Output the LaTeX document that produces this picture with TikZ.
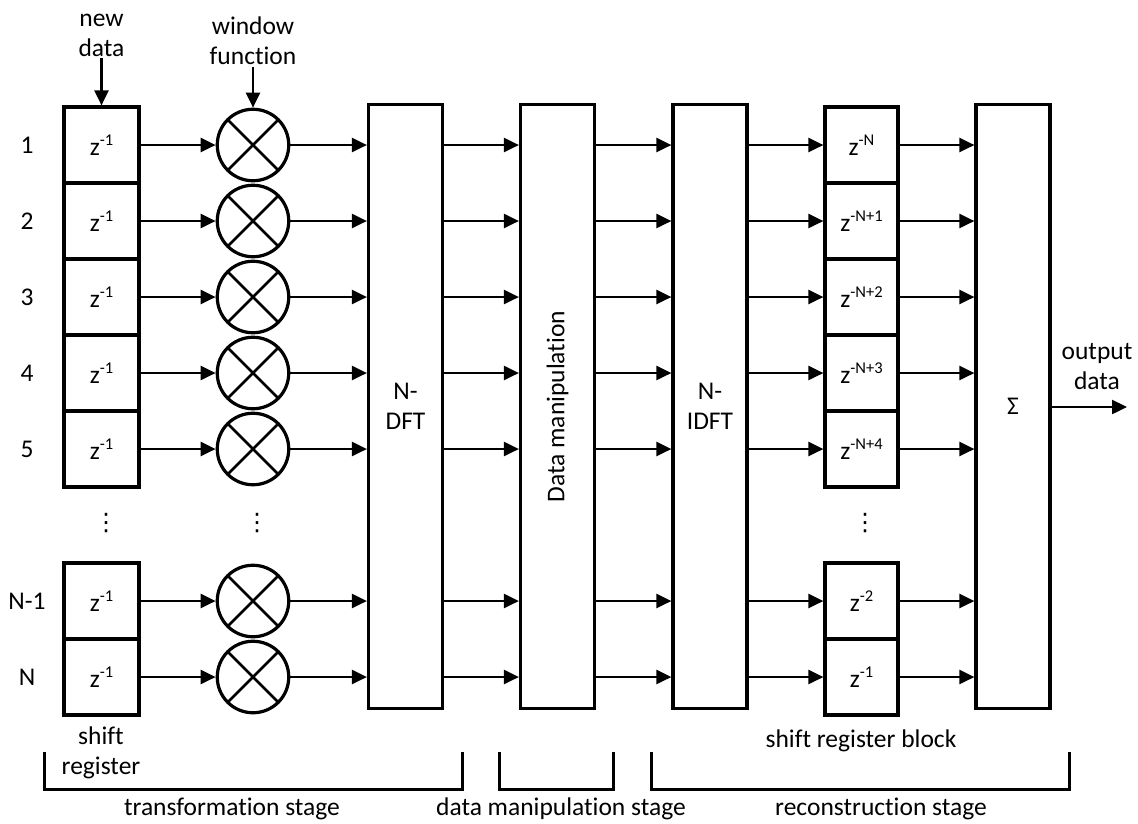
\documentclass[tikz,border=0pt]{standalone}
\usepackage{fontspec}
\setmainfont{Carlito}[Ligatures={NoCommon,NoContextual}]
\newfontfamily\dejavu{DejaVu Sans}
\usetikzlibrary{arrows.meta}
\newcommand\zsup[1]{z\raisebox{0.4em}{\fontsize{16.5}{16.5}\selectfont #1}}
\newcommand\mydots{{\dejavu\fontsize{24}{24}\selectfont ⋮}}
\begin{document}
\begin{tikzpicture}[x=1pt,y=-1pt,
  font=\fontsize{25.5}{30}\selectfont,
  box/.style={draw, line width=3.2pt, minimum width=75pt, minimum height=76pt, inner sep=0pt},
  big/.style={draw, line width=3.2pt, minimum width=74pt, minimum height=604pt, inner sep=0pt, align=center},
  mult/.style={circle, draw, line width=3.2pt, minimum size=71.5pt, inner sep=0pt,
    path picture={\draw[line width=2.8pt] (path picture bounding box.north west) -- (path picture bounding box.south east)
      (path picture bounding box.south west) -- (path picture bounding box.north east);}},
  arr/.style={line width=2.4pt, -{Triangle[length=15pt,width=14pt]}},
  brk/.style={line width=3pt},
  lbl/.style={align=center, inner sep=0pt}]
\useasboundingbox (0,0) rectangle (1138,823);

% big blocks
\node[big] (dft) at (405.5,406.5) {N-\\DFT};
\node[big] (dm) at (557.5,406.5) {};
\node[rotate=90, inner sep=0pt] (dmt) at (dm.center) {Data manipulation};
\node[big] (idft) at (710,406.5) {N-\\IDFT};
\node[big] (sig) at (1013,406.5) {Σ};

% rows
\foreach \i/\y/\t/\r in {1/145/1/-N, 2/221/2/-N+1, 3/297/3/-N+2, 4/373/4/-N+3, 5/449/5/-N+4, 7/601/N-1/-2, 8/677/N/-1}{
  \node[box] (sl\i) at (101.5,\y) {\zsup{-1}};
  \node[mult] (m\i) at (253,\y) {};
  \node[box, minimum width=73pt] (sr\i) at (861.5,\y) {\zsup{\r}};
  \node[lbl] (lab\i) at (27,\y) {\t};
  \draw[arr] (sl\i) -- (m\i);
  \draw[arr] (m\i) -- (dft.west |- m\i);
  \draw[arr] (dft.east |- m\i) -- (dm.west |- m\i);
  \draw[arr] (dm.east |- m\i) -- (idft.west |- m\i);
  \draw[arr] (idft.east |- m\i) -- (sr\i);
  \draw[arr] (sr\i) -- (sig.west |- sr\i);
}

% dots
\node[inner sep=0pt] (d1) at (106,523) {\mydots};
\node[inner sep=0pt] (d2) at (257,523) {\mydots};
\node[inner sep=0pt] (d3) at (865,523) {\mydots};

% inputs
\node[lbl] (nd) at (101.5,35) {new\\data};
\draw[arr, shorten <=2pt] (nd.south) -- (sl1.north);
\node[lbl] (wf) at (253,41) {window\\function};
\draw[arr, shorten <=2pt] (wf.south) -- (m1.north);

% output
\coordinate (out) at (1127,407);
\draw[arr] (sig.east |- out) -- (out);
\node[lbl] (od) at (1097,367) {output\\data};

% lower labels
\node[lbl] (srl) at (101,753) {shift\\register};
\node[lbl] (srb) at (861,741) {shift register block};

% brackets
\draw[brk] (44,752) |- (462,789) -- (462,752);
\draw[brk] (499,752) |- (613,789) -- (613,752);
\draw[brk] (651,752) |- (1069,789) -- (1069,752);
\node[lbl] (ts) at (232,809) {transformation stage};
\node[lbl] (dms) at (561,809) {data manipulation stage};
\node[lbl] (rs) at (881,809) {reconstruction stage};
\end{tikzpicture}
\end{document}
